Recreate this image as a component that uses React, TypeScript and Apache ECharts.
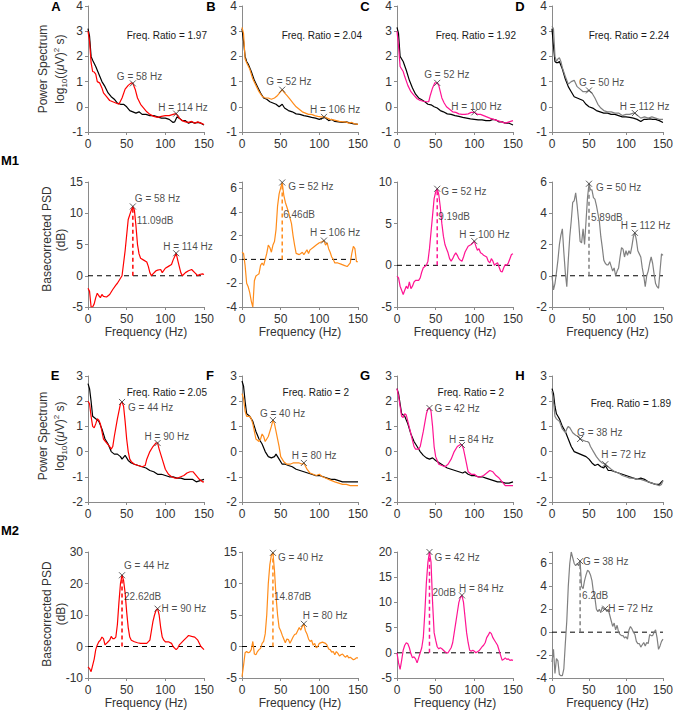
import React, { useEffect, useRef } from "react";
import * as echarts from "echarts";

const FONT = "'Liberation Sans', Arial, Helvetica, sans-serif";
const RED = "#ff0000";
const ORANGE = "#ff8c1a";
const PINK = "#ff1493";
const GRAY = "#808080";
const BLACK = "#000000";
const AXIS = "#8a8a8a";
const TXT = "#1a1a1a";
const ANN = 10;

// ---------- Row 1 (M1) power spectra: [Hz, log10 power] ----------
const powBaseA = [[0,3.1],[2,2.8],[4,2.0],[6,1.85],[10,1.6],[14,1.3],[18,1.0],[22,0.8],[26,0.55],[30,0.4],[34,0.3],[38,0.15],[42,0.1],[46,0.1],[50,0.0],[54,-0.15],[58,-0.2],[62,-0.25],[66,-0.2],[70,-0.3],[75,-0.3],[80,-0.35],[85,-0.35],[90,-0.4],[95,-0.45],[100,-0.45],[105,-0.5],[110,-0.62],[112,-0.6],[115,-0.4],[118,-0.45],[122,-0.55],[126,-0.55],[130,-0.65],[134,-0.6],[138,-0.65],[142,-0.62],[146,-0.65],[150,-0.72]];
const powStimA = [[0,3.0],[2,2.6],[4,1.75],[6,1.4],[8,1.38],[10,1.3],[12,1.0],[15,0.95],[18,0.75],[20,0.55],[24,0.4],[28,0.25],[32,0.2],[36,0.15],[40,0.1],[44,0.35],[48,0.7],[52,0.85],[56,0.95],[58,0.93],[61,0.7],[64,0.35],[68,0.1],[72,-0.05],[76,-0.2],[80,-0.3],[85,-0.38],[90,-0.42],[95,-0.38],[100,-0.35],[105,-0.35],[110,-0.3],[114,-0.27],[118,-0.45],[122,-0.55],[126,-0.6],[130,-0.62],[134,-0.58],[138,-0.65],[142,-0.6],[146,-0.65],[150,-0.7]];
const powBaseB = [[0,3.1],[2,2.6],[4,2.0],[6,1.8],[8,1.7],[12,1.4],[16,1.05],[20,0.8],[24,0.55],[28,0.35],[32,0.3],[36,0.2],[40,0.15],[44,0.1],[48,0.0],[50,0.05],[52,0.1],[55,-0.05],[60,-0.15],[65,-0.2],[70,-0.28],[75,-0.3],[80,-0.35],[85,-0.38],[90,-0.42],[95,-0.45],[100,-0.5],[104,-0.45],[108,-0.42],[112,-0.55],[116,-0.5],[120,-0.58],[125,-0.6],[130,-0.62],[135,-0.6],[140,-0.65],[145,-0.68],[150,-0.7]];
const powStimB = [[0,3.15],[2,2.9],[4,1.9],[6,1.75],[10,1.5],[14,1.1],[18,0.85],[22,0.6],[26,0.42],[30,0.35],[34,0.35],[38,0.3],[42,0.35],[46,0.45],[50,0.6],[52,0.68],[55,0.55],[58,0.45],[62,0.3],[66,0.15],[70,0.0],[74,-0.1],[78,-0.2],[82,-0.25],[86,-0.3],[90,-0.3],[94,-0.35],[98,-0.38],[102,-0.4],[106,-0.4],[110,-0.45],[114,-0.5],[118,-0.52],[122,-0.55],[126,-0.58],[130,-0.6],[134,-0.6],[138,-0.65],[142,-0.62],[146,-0.68],[150,-0.7]];
const powBaseC = [[0,3.15],[2,2.9],[4,2.0],[8,1.8],[12,1.45],[16,1.05],[20,0.75],[24,0.5],[28,0.35],[32,0.28],[36,0.2],[40,0.1],[44,0.08],[48,0.0],[52,-0.05],[56,-0.15],[60,-0.2],[65,-0.28],[70,-0.3],[75,-0.35],[80,-0.38],[85,-0.42],[90,-0.45],[95,-0.48],[100,-0.5],[105,-0.52],[110,-0.52],[115,-0.55],[120,-0.55],[124,-0.5],[128,-0.52],[132,-0.6],[136,-0.6],[140,-0.65],[145,-0.65],[150,-0.72]];
const powStimC = [[0,3.0],[2,2.4],[4,1.6],[6,1.5],[8,1.4],[10,1.2],[14,0.85],[18,0.6],[22,0.45],[26,0.32],[30,0.25],[34,0.22],[38,0.2],[41,0.2],[43,0.45],[46,0.75],[49,0.95],[52,0.95],[54,0.85],[56,0.6],[58,0.35],[61,0.15],[64,0.0],[68,-0.1],[72,-0.2],[76,-0.22],[80,-0.28],[84,-0.3],[88,-0.3],[92,-0.28],[96,-0.22],[100,-0.22],[104,-0.3],[108,-0.3],[112,-0.35],[116,-0.4],[120,-0.45],[125,-0.5],[130,-0.55],[135,-0.6],[140,-0.65],[145,-0.6],[150,-0.55]];
const powBaseD = [[0,3.1],[2,2.4],[4,1.8],[6,1.75],[8,1.75],[10,1.8],[14,1.5],[18,1.1],[22,0.8],[26,0.6],[30,0.4],[34,0.35],[38,0.3],[42,0.25],[46,0.1],[50,0.0],[55,-0.05],[60,-0.15],[65,-0.2],[70,-0.25],[75,-0.25],[80,-0.3],[85,-0.3],[90,-0.35],[95,-0.4],[100,-0.4],[105,-0.42],[110,-0.45],[115,-0.5],[120,-0.58],[124,-0.5],[128,-0.5],[132,-0.48],[136,-0.5],[140,-0.5],[145,-0.55],[150,-0.62]];
const powStimD = [[0,3.2],[2,3.1],[4,2.0],[6,1.8],[8,1.9],[10,1.95],[12,1.8],[14,1.55],[18,1.2],[22,0.9],[26,1.0],[30,1.05],[34,0.8],[38,0.7],[42,0.6],[46,0.6],[50,0.65],[54,0.55],[58,0.35],[62,0.1],[66,-0.05],[70,-0.15],[75,-0.2],[80,-0.2],[85,-0.25],[90,-0.25],[95,-0.35],[100,-0.3],[105,-0.3],[110,-0.25],[112,-0.25],[116,-0.35],[120,-0.45],[125,-0.4],[130,-0.45],[135,-0.4],[140,-0.45],[145,-0.5],[150,-0.5]];

// ---------- Row 2 (M1) basecorrected PSD: [Hz, dB] ----------
const psdA = [[0,-2],[2,-2.5],[4,-5],[6,-5],[8,-4.5],[10,-3.5],[12,-2.8],[14,-3.2],[16,-3.5],[18,-3],[20,-3.3],[24,-3.4],[28,-3],[32,-2.2],[36,-1.5],[38,-1.2],[40,-0.8],[44,0],[48,4],[52,9],[56,10.5],[58,11.09],[60,10.5],[62,8],[64,5],[66,3.5],[68,2.8],[72,2.5],[76,2.2],[78,1.5],[80,0.5],[82,0],[84,0.3],[88,0.8],[90,0.9],[94,1.0],[96,0.5],[100,1.2],[104,1.5],[108,1.8],[110,2.5],[114,3.6],[116,2.5],[118,1.5],[120,0.5],[122,0],[126,0.5],[130,0.8],[134,1.0],[138,0.5],[142,0],[144,0.2],[148,0.3],[150,0.2]];
const psdB = [[0,0.6],[2,0.5],[4,-0.5],[6,-2],[8,-2.3],[10,-2.8],[12,-3.5],[14,-4],[16,-1.8],[18,-1.4],[20,-1.3],[22,-1.2],[24,-0.5],[26,-0.3],[28,-0.5],[30,0],[32,0.5],[34,1.2],[36,1.0],[38,0.6],[40,1.2],[42,1.5],[44,2.5],[46,4.5],[48,5.5],[50,6.0],[52,6.46],[54,5.4],[56,4.8],[60,4.0],[64,3.0],[66,2.0],[68,1.2],[70,0.5],[74,0.4],[76,0.5],[78,0.6],[80,0.4],[82,0.6],[84,0.8],[86,0.5],[88,0.8],[92,1.0],[96,1.2],[100,1.4],[104,1.5],[106,1.58],[108,1.2],[110,1.4],[112,0.9],[114,0.6],[116,0.2],[118,0],[120,-0.3],[124,-0.3],[128,-0.4],[132,-0.5],[136,-0.6],[140,-0.3],[142,0.5],[144,1.1],[146,0.9],[148,-0.2],[150,-0.2]];
const psdC = [[0,-1.3],[2,-1.5],[4,-2.5],[6,-3],[8,-3.5],[10,-3],[12,-2.5],[14,-2.8],[16,-2],[18,-2.8],[20,-2.5],[22,-2],[24,-1.8],[28,-1.8],[30,-1.5],[32,-0.8],[34,-0.3],[38,0],[40,0.5],[42,2],[44,4],[46,6],[48,8],[50,8.8],[52,9.19],[54,8.5],[56,7],[58,5],[60,3.5],[62,2.5],[64,2],[66,1.5],[68,0.8],[70,0.5],[72,0.8],[74,1.2],[76,1.5],[78,1.2],[80,0.8],[82,0.6],[84,0.5],[86,1],[88,1.6],[92,2.3],[96,2.5],[98,2.7],[100,2.9],[102,2.3],[104,1.8],[106,2.0],[108,1.5],[110,1.4],[112,1.2],[116,1.0],[118,0.5],[120,0.3],[122,0.8],[124,0.5],[126,0],[128,0.2],[130,0.3],[132,-0.2],[134,-0.7],[136,-0.8],[138,-0.3],[140,0.1],[142,0],[144,0.3],[146,0.8],[148,1.3],[150,1.4]];
const psdD = [[0,0],[2,-0.9],[4,-0.5],[6,0.2],[8,1.0],[10,2.0],[12,2.6],[14,3.0],[16,1.5],[18,0.2],[20,-0.7],[22,1.0],[24,2.5],[26,3.5],[28,4.7],[30,4.8],[32,5.3],[34,4.5],[36,3.5],[38,2.2],[40,2.1],[42,3.0],[44,2.0],[46,3.5],[48,5.0],[50,5.89],[52,5.5],[54,5.5],[56,5.0],[58,4.9],[60,4.5],[62,4.0],[64,3.5],[66,2.5],[68,1.8],[70,1.0],[72,0.8],[74,0.7],[76,0.7],[78,0.9],[80,0.6],[82,0.3],[84,0.5],[86,0],[88,0.3],[90,0.5],[92,1.2],[94,1.8],[96,1.7],[98,1.2],[100,1.6],[102,1.3],[104,1.6],[106,1.4],[108,1.9],[110,2.5],[112,2.75],[114,2.3],[116,1.6],[118,1.4],[120,1.2],[122,0.5],[124,0],[126,-0.7],[128,0],[130,0.3],[132,0.8],[134,1.2],[136,0.8],[138,0.1],[140,-0.5],[142,-0.7],[144,-0.8],[146,0.3],[148,1.4],[150,1.3]];

// ---------- Row 3 (M2) power spectra ----------
const powBaseE = [[0,2.7],[2,2.5],[4,2.0],[6,1.4],[10,1.3],[14,1.2],[18,0.9],[22,0.5],[26,0.3],[30,0.0],[34,-0.1],[38,-0.1],[42,-0.2],[44,-0.3],[48,-0.15],[52,-0.35],[56,-0.45],[60,-0.5],[65,-0.55],[70,-0.6],[75,-0.65],[80,-0.75],[85,-0.8],[90,-0.9],[95,-0.9],[100,-0.95],[105,-1.0],[110,-1.0],[115,-1.05],[120,-1.05],[125,-1.1],[130,-1.1],[135,-1.1],[140,-1.2],[145,-1.15],[150,-1.1]];
const powStimE = [[0,2.0],[2,1.9],[4,1.4],[6,1.0],[8,0.95],[10,1.1],[12,1.3],[14,1.25],[16,1.1],[18,0.8],[20,0.5],[24,0.35],[28,0.2],[30,0.1],[32,0.2],[34,0.6],[38,1.3],[42,1.9],[44,1.97],[46,1.8],[48,1.2],[50,0.5],[52,0.0],[54,-0.3],[56,-0.4],[60,-0.5],[65,-0.55],[70,-0.6],[74,-0.55],[76,-0.3],[80,0.0],[84,0.2],[88,0.35],[90,0.34],[92,0.1],[94,-0.1],[96,-0.3],[100,-0.7],[104,-0.9],[108,-1.0],[112,-1.05],[116,-1.05],[120,-1.0],[124,-0.95],[128,-0.85],[132,-0.8],[136,-0.8],[140,-0.95],[144,-1.1],[148,-1.2],[150,-1.2]];
const powBaseF = [[0,2.8],[2,2.6],[4,2.0],[6,1.5],[10,1.4],[14,1.2],[18,0.8],[22,0.5],[26,0.3],[30,0.0],[34,-0.2],[38,-0.25],[42,-0.2],[44,-0.1],[48,-0.3],[52,-0.5],[56,-0.5],[60,-0.55],[65,-0.6],[70,-0.7],[75,-0.75],[80,-0.8],[85,-0.85],[90,-0.9],[95,-0.95],[100,-0.95],[105,-1.0],[110,-1.05],[115,-1.1],[120,-1.1],[125,-1.15],[130,-1.2],[135,-1.2],[140,-1.2],[145,-1.2],[150,-1.2]];
const powStimF = [[0,2.3],[2,2.1],[4,1.6],[6,1.4],[10,1.4],[12,1.3],[14,1.1],[18,0.5],[22,0.4],[24,0.5],[26,0.7],[28,0.6],[30,0.4],[34,0.6],[38,1.0],[40,1.25],[42,1.1],[44,0.8],[48,0.2],[50,-0.2],[54,-0.4],[58,-0.5],[62,-0.5],[66,-0.45],[70,-0.45],[74,-0.45],[78,-0.5],[80,-0.45],[84,-0.7],[88,-0.85],[92,-0.9],[96,-0.95],[100,-0.9],[104,-1.0],[108,-1.05],[112,-1.1],[116,-1.15],[120,-1.2],[125,-1.25],[130,-1.3],[135,-1.3],[140,-1.35],[145,-1.35],[150,-1.35]];
const powBaseG = [[0,2.5],[2,2.3],[4,1.9],[6,1.5],[10,1.4],[14,1.1],[18,0.7],[22,0.4],[26,0.2],[30,0.0],[34,-0.15],[38,-0.25],[42,-0.3],[46,-0.25],[50,-0.35],[55,-0.45],[60,-0.55],[65,-0.65],[70,-0.7],[75,-0.75],[80,-0.8],[85,-0.85],[88,-0.8],[92,-0.9],[96,-0.95],[100,-0.95],[105,-1.0],[110,-1.0],[115,-1.05],[120,-1.1],[125,-1.15],[130,-1.2],[135,-1.2],[140,-1.25],[145,-1.25],[150,-1.2]];
const powStimG = [[0,2.5],[2,2.2],[4,1.8],[6,1.4],[8,1.35],[10,1.5],[12,1.45],[14,1.2],[18,0.7],[22,0.2],[24,0.1],[28,0.1],[30,0.2],[34,0.8],[38,1.5],[40,1.7],[42,1.73],[44,1.6],[46,1.0],[48,0.2],[50,-0.2],[54,-0.5],[58,-0.55],[62,-0.6],[66,-0.5],[70,-0.3],[74,0.0],[78,0.2],[82,0.28],[84,0.26],[86,0.1],[88,-0.2],[90,-0.5],[92,-0.8],[96,-0.9],[100,-0.9],[104,-1.0],[108,-1.0],[112,-0.95],[116,-0.85],[120,-0.75],[124,-0.8],[128,-0.95],[132,-1.05],[136,-1.2],[140,-1.35],[145,-1.35],[150,-1.35]];
const powBaseH = [[0,2.5],[2,2.3],[4,1.8],[6,1.5],[8,1.4],[10,1.3],[14,1.0],[18,0.8],[22,0.5],[26,0.2],[30,0.0],[34,-0.05],[38,-0.1],[42,-0.15],[46,-0.2],[50,-0.3],[54,-0.45],[58,-0.55],[62,-0.5],[66,-0.6],[70,-0.65],[72,-0.55],[76,-0.75],[80,-0.75],[85,-0.8],[90,-0.85],[95,-0.9],[100,-0.95],[105,-1.0],[110,-1.05],[115,-1.1],[120,-1.05],[125,-1.1],[130,-1.2],[135,-1.25],[140,-1.3],[145,-1.3],[148,-1.2],[150,-1.15]];
const powStimH = [[0,2.4],[2,2.0],[4,1.4],[6,1.3],[10,1.2],[14,0.9],[18,0.75],[20,0.9],[22,1.0],[24,0.95],[28,0.75],[32,0.65],[36,0.6],[38,0.5],[42,0.45],[46,0.4],[48,0.4],[50,0.35],[52,0.2],[56,0.0],[60,-0.2],[64,-0.35],[68,-0.45],[72,-0.5],[76,-0.6],[80,-0.7],[85,-0.8],[90,-0.85],[95,-0.95],[100,-1.0],[105,-1.05],[110,-1.05],[115,-1.1],[120,-1.1],[125,-1.15],[130,-1.2],[135,-1.25],[140,-1.3],[145,-1.35],[148,-1.3],[150,-1.15]];

// ---------- Row 4 (M2) basecorrected PSD ----------
const psdE = [[0,-6.5],[2,-7],[4,-8],[6,-6],[8,-4],[10,-1],[12,0.5],[14,1.5],[16,2],[18,3],[20,2.5],[22,0.5],[24,1],[26,1.5],[28,2],[30,3.2],[32,2.5],[34,2.5],[36,3],[38,7],[40,14],[42,20],[44,22.62],[46,21],[48,17],[50,11],[52,6],[54,3],[56,2],[60,1.5],[64,1.2],[68,1],[72,1],[76,1],[80,2],[82,5],[84,8],[86,10],[88,11.5],[90,12],[92,10],[94,6],[96,3],[98,2],[100,1.5],[104,1.5],[108,1],[110,0],[112,-0.5],[114,-1],[116,-0.5],[118,0.5],[120,1],[124,2],[128,3],[130,3.5],[134,3.2],[138,3],[142,2],[146,0],[150,-1]];
const psdF = [[0,-4.8],[2,-3],[4,-1],[6,-0.8],[8,-1],[10,-0.9],[12,-0.5],[14,0.8],[16,-1.2],[18,-1.3],[20,-0.8],[22,-0.5],[24,-0.3],[26,0.5],[28,0.8],[30,2],[32,5],[34,10],[36,13],[38,14.5],[40,14.87],[42,12],[44,8],[46,5],[48,3],[50,2.5],[52,1.8],[54,1.2],[56,0.6],[58,1.2],[60,1.1],[62,0.5],[64,1],[66,1.5],[68,1.9],[70,2],[72,2.5],[74,3],[76,2.6],[78,3.2],[80,3.6],[82,2.5],[84,2],[86,1.2],[88,0.8],[90,1],[92,0.2],[94,0.5],[96,-0.2],[98,0],[100,0.5],[104,0.7],[108,0.5],[110,0.2],[112,-0.4],[114,-0.5],[116,-0.9],[118,-0.8],[120,-1.3],[122,-0.8],[124,-1.1],[126,-1.5],[128,-1.3],[130,-1.2],[132,-1.5],[134,-1.7],[136,-1.4],[138,-1.8],[140,-1.7],[142,-1.9],[144,-2.1],[146,-2.0],[148,-1.8],[150,-1.8]];
const psdG = [[0,0],[2,-2],[4,-3.3],[6,-1.5],[8,0.5],[10,1.5],[12,2],[14,1.8],[16,1],[18,-0.2],[20,-1],[22,-0.8],[24,-1.2],[26,-2],[28,-1],[30,0],[32,1],[34,3],[36,8],[38,14],[40,18],[42,20],[44,18],[46,10],[48,4],[50,2.5],[52,1.2],[54,0.8],[56,1],[58,0.8],[60,0.5],[62,0.2],[64,0],[66,0],[68,0.5],[70,1],[72,2],[74,4],[76,6],[78,8],[80,10],[82,11],[84,11.4],[86,10],[88,7],[90,4],[92,2],[94,0.5],[96,0.3],[98,0.5],[100,0.3],[102,0],[104,0.2],[106,0.4],[108,0.8],[110,1.2],[112,1.5],[114,2],[116,3],[118,3.5],[120,4.1],[122,3.8],[124,3],[126,2.5],[128,2],[130,1.5],[132,0.5],[134,-0.5],[136,-1.5],[138,-1.3],[140,-1],[142,-1.3],[144,-1.2],[146,-1.5],[148,-1.4],[150,-1.5]];
const psdH = [[0,-2.6],[2,-1.5],[4,-3.6],[6,-2.3],[8,-2.5],[10,-3.7],[12,-3.8],[14,-3.8],[16,-3.2],[18,-1],[20,1],[22,4],[24,6],[26,7],[28,6.5],[30,6],[32,5.8],[34,6],[36,5.8],[38,6.2],[40,4],[42,3.8],[44,4.5],[46,5],[48,5.4],[50,5.3],[52,5],[54,4.5],[56,3.5],[58,3],[60,2],[62,1.8],[64,2],[66,1.7],[68,2.2],[70,2],[72,2.05],[74,1.8],[76,2],[78,1.5],[80,1],[82,0.5],[84,0.8],[86,0.2],[88,0.6],[90,0],[92,-0.2],[94,-0.3],[96,-0.3],[98,-0.5],[100,-0.4],[102,-0.6],[104,0.2],[106,0.5],[108,0.3],[110,0],[112,-0.2],[114,-0.8],[116,-1],[118,-1],[120,-1.3],[122,-1.1],[124,-0.9],[126,-1.2],[128,-0.9],[130,-1],[132,-0.2],[134,-0.3],[136,-0.3],[138,0],[140,0.2],[142,-0.5],[144,-1.5],[146,-1.2],[148,-0.8],[150,-0.6]];

// ---------- Peak markers [Hz, value] (G, H) ----------
const marksPowA = [[58,0.93],[114,-0.27]];
const marksPowB = [[52,0.68],[106,-0.4]];
const marksPowC = [[52,0.95],[100,-0.22]];
const marksPowD = [[50,0.65],[112,-0.25]];
const marksPsdA = [[58,11.09],[114,3.6]];
const marksPsdB = [[52,6.46],[106,1.58]];
const marksPsdC = [[52,9.19],[100,2.9]];
const marksPsdD = [[50,5.89],[112,2.75]];
const marksPowE = [[44,1.97],[90,0.34]];
const marksPowF = [[40,1.25],[80,-0.45]];
const marksPowG = [[42,1.73],[84,0.26]];
const marksPowH = [[38,0.5],[72,-0.5]];
const marksPsdE = [[44,22.62],[90,12]];
const marksPsdF = [[40,14.87],[80,3.6]];
const marksPsdG = [[42,20],[84,11.4]];
const marksPsdH = [[38,6.2],[72,2.05]];

const freqRatios = ["1.97", "2.04", "1.92", "2.24", "2.05", "2", "2", "1.89"];
const dbTexts = ["11.09dB", "6.46dB", "9.19dB", "5.89dB", "22.62dB", "14.87dB", "20dB", "6.2dB"];
const dbLabelLevel = [8.8, 3.75, 5.9, 3.75, 15.8, 7.9, 11.9, 3.2];

const COL_X = [88, 242, 397, 552];
const PW = 116;
const ROW_Y = [5, 182, 376, 552];
const ROW_H = [127, 125, 126, 126];

type Off = [number, number];
interface Panel {
  row: number; col: number; color: string; kind: "pow" | "psd";
  base?: number[][]; line: number[][]; marks: number[][];
  yMin: number; yMax: number; yInt: number;
  off: Off[]; idx: number; dbDx?: number;
}

const PANELS: Panel[] = [
  { row: 0, col: 0, color: RED, kind: "pow", base: powBaseA, line: powStimA, marks: marksPowA, yMin: -1, yMax: 4, yInt: 1, off: [[-16, -7], [-18, -6]], idx: 0 },
  { row: 0, col: 1, color: ORANGE, kind: "pow", base: powBaseB, line: powStimB, marks: marksPowB, yMin: -1, yMax: 4, yInt: 1, off: [[-16, -8], [-14, -7]], idx: 1 },
  { row: 0, col: 2, color: PINK, kind: "pow", base: powBaseC, line: powStimC, marks: marksPowC, yMin: -1, yMax: 4, yInt: 1, off: [[-13, -8], [-23, -6]], idx: 2 },
  { row: 0, col: 3, color: GRAY, kind: "pow", base: powBaseD, line: powStimD, marks: marksPowD, yMin: -1, yMax: 4, yInt: 1, off: [[-10, -8], [-15, -7]], idx: 3 },
  { row: 1, col: 0, color: RED, kind: "psd", line: psdA, marks: marksPsdA, yMin: -5, yMax: 15, yInt: 5, off: [[2, -8], [-13, -7]], idx: 0, dbDx: 4 },
  { row: 1, col: 1, color: ORANGE, kind: "psd", line: psdB, marks: marksPsdB, yMin: -4, yMax: 6.5, yInt: 2, off: [[6, 4], [-14, -8]], idx: 1, dbDx: 1 },
  { row: 1, col: 2, color: PINK, kind: "psd", line: psdC, marks: marksPsdC, yMin: -5, yMax: 10, yInt: 5, off: [[4, 3], [-15, -7]], idx: 2, dbDx: 1 },
  { row: 1, col: 3, color: GRAY, kind: "psd", line: psdD, marks: marksPsdD, yMin: -2, yMax: 6, yInt: 2, off: [[7, 4], [-14, -7]], idx: 3, dbDx: 2 },
  { row: 2, col: 0, color: RED, kind: "pow", base: powBaseE, line: powStimE, marks: marksPowE, yMin: -2, yMax: 3, yInt: 1, off: [[6, 6], [-13, -7]], idx: 4 },
  { row: 2, col: 1, color: ORANGE, kind: "pow", base: powBaseF, line: powStimF, marks: marksPowF, yMin: -2, yMax: 3, yInt: 1, off: [[-13, -7], [-12, -7]], idx: 5 },
  { row: 2, col: 2, color: PINK, kind: "pow", base: powBaseG, line: powStimG, marks: marksPowG, yMin: -2, yMax: 3, yInt: 1, off: [[5, 0], [-13, -6]], idx: 6 },
  { row: 2, col: 3, color: GRAY, kind: "pow", base: powBaseH, line: powStimH, marks: marksPowH, yMin: -2, yMax: 3, yInt: 1, off: [[-3, -7], [-4, -10]], idx: 7 },
  { row: 3, col: 0, color: RED, kind: "psd", line: psdE, marks: marksPsdE, yMin: -10, yMax: 30, yInt: 10, off: [[2, -10], [4, 0]], idx: 4, dbDx: 2 },
  { row: 3, col: 1, color: ORANGE, kind: "psd", line: psdF, marks: marksPsdF, yMin: -5, yMax: 15, yInt: 5, off: [[5, 5], [-1, -8]], idx: 5, dbDx: 1 },
  { row: 3, col: 2, color: PINK, kind: "psd", line: psdG, marks: marksPsdG, yMin: -5, yMax: 20, yInt: 5, off: [[5, 5], [-3, -7]], idx: 6, dbDx: 3 },
  { row: 3, col: 3, color: GRAY, kind: "psd", line: psdH, marks: marksPsdH, yMin: -4, yMax: 7, yInt: 2, off: [[3, 0], [3, 0]], idx: 7, dbDx: 2 },
];

const RATIO_POS = [[207, 35], [362, 35], [516, 35], [669, 35], [207, 392], [349, 392], [504, 392], [671, 403]];
const LETTERS = [["A", 56, 6], ["B", 211, 6], ["C", 365, 6], ["D", 520, 6], ["E", 55, 375], ["F", 210, 375], ["G", 365, 375], ["H", 520, 375]];

const XSYM = "path://M0,0L10,10M10,0L0,10";

function buildOption() {
  const grid: any[] = [];
  const xAxis: any[] = [];
  const yAxis: any[] = [];
  const series: any[] = [];
  const graphic: any[] = [];

  PANELS.forEach((p, i) => {
    grid.push({ left: COL_X[p.col], top: ROW_Y[p.row], width: PW, height: ROW_H[p.row], containLabel: false });
    xAxis.push({
      type: "value", gridIndex: i, min: 0, max: 150, interval: 50,
      axisLine: { onZero: false, lineStyle: { color: AXIS, width: 1 } },
      axisTick: { show: true, length: 3, lineStyle: { color: AXIS } },
      axisLabel: { color: "#333", fontSize: 12, fontFamily: FONT, margin: 6 },
      splitLine: { show: false },
      name: p.row % 2 === 1 ? "Frequency (Hz)" : "",
      nameLocation: "middle", nameGap: 19,
      nameTextStyle: { color: "#333", fontSize: 12, fontFamily: FONT },
    });
    const yInt = p.yInt;
    yAxis.push({
      type: "value", gridIndex: i, min: p.yMin, max: p.yMax, interval: yInt,
      axisLine: { show: true, onZero: false, lineStyle: { color: AXIS, width: 1 } },
      axisTick: { show: true, length: 3, lineStyle: { color: AXIS } },
      axisLabel: {
        color: "#333", fontSize: 12, fontFamily: FONT, margin: 5,
        formatter: (v: number) => (Math.abs(v / yInt - Math.round(v / yInt)) < 1e-6 ? String(Math.round(v * 100) / 100) : ""),
      },
      splitLine: { show: false },
    });

    if (p.kind === "pow") {
      series.push({ type: "line", xAxisIndex: i, yAxisIndex: i, data: p.base, symbol: "none", lineStyle: { color: BLACK, width: 1.2 }, silent: true, z: 2 });
      series.push({ type: "line", xAxisIndex: i, yAxisIndex: i, data: p.line, symbol: "none", lineStyle: { color: p.color, width: 1.2 }, silent: true, z: 3 });
    } else {
      const g = p.marks[0];
      series.push({ type: "line", xAxisIndex: i, yAxisIndex: i, data: [[0, 0], [150, 0]], symbol: "none", lineStyle: { color: BLACK, width: 1, type: [5, 4] }, silent: true, z: 2 });
      series.push({ type: "line", xAxisIndex: i, yAxisIndex: i, data: [[g[0], 0], [g[0], g[1]]], symbol: "none", lineStyle: { color: p.color, width: 1.5, type: [4, 3] }, silent: true, z: 2 });
      series.push({ type: "line", xAxisIndex: i, yAxisIndex: i, data: p.line, symbol: "none", lineStyle: { color: p.color, width: 1.2 }, silent: true, z: 3 });
      series.push({
        type: "scatter", xAxisIndex: i, yAxisIndex: i, silent: true, z: 5,
        symbolSize: 1, itemStyle: { color: "rgba(0,0,0,0)" },
        data: [{ value: [g[0], dbLabelLevel[p.idx]], name: dbTexts[p.idx] }],
        label: { show: true, position: "inside", align: "left", verticalAlign: "middle", offset: [p.dbDx || 0, 0], formatter: "{b}", color: TXT, fontSize: ANN, fontFamily: FONT },
      });
    }
    const names = ["G = " + p.marks[0][0] + " Hz", "H = " + p.marks[1][0] + " Hz"];
    series.push({
      type: "scatter", xAxisIndex: i, yAxisIndex: i, silent: true, z: 6,
      symbol: XSYM, symbolSize: 6,
      itemStyle: { color: "rgba(0,0,0,0)", borderColor: "#333", borderWidth: 1 },
      data: p.marks.map((m, k) => ({
        value: m, name: names[k],
        label: { show: true, position: "inside", align: "left", verticalAlign: "middle", offset: p.off[k], formatter: "{b}", color: TXT, fontSize: ANN, fontFamily: FONT },
      })),
    });
  });

  RATIO_POS.forEach((pos, k) => {
    graphic.push({ type: "text", x: pos[0], y: pos[1], silent: true, style: { text: "Freq. Ratio = " + freqRatios[k], fill: TXT, fontSize: ANN, fontFamily: FONT, align: "right", verticalAlign: "middle", textAlign: "right", textVerticalAlign: "middle" } });
  });
  LETTERS.forEach((l) => {
    graphic.push({ type: "text", x: l[1], y: l[2], silent: true, style: { text: l[0], fill: "#000", fontSize: 13, fontWeight: "bold", fontFamily: FONT, align: "center", verticalAlign: "middle", textAlign: "center", textVerticalAlign: "middle" } });
  });
  graphic.push({ type: "text", x: 1, y: 160, silent: true, style: { text: "M1", fill: "#000", fontSize: 13, fontWeight: "bold", fontFamily: FONT, align: "left", verticalAlign: "middle", textAlign: "left", textVerticalAlign: "middle" } });
  graphic.push({ type: "text", x: 1, y: 530, silent: true, style: { text: "M2", fill: "#000", fontSize: 13, fontWeight: "bold", fontFamily: FONT, align: "left", verticalAlign: "middle", textAlign: "left", textVerticalAlign: "middle" } });

  const rich = {
    n: { fontSize: 12, fontFamily: FONT, fill: "#333", color: "#333", lineHeight: 16 },
    i: { fontSize: 12, fontFamily: FONT, fill: "#333", color: "#333", fontStyle: "italic", lineHeight: 16 },
    s: { fontSize: 8, fontFamily: FONT, fill: "#333", color: "#333", verticalAlign: "bottom", lineHeight: 9 },
    p: { fontSize: 8, fontFamily: FONT, fill: "#333", color: "#333", verticalAlign: "top", lineHeight: 9 },
  };
  const rotText = (x: number, y: number, text: string, useRich = false) => ({
    type: "text", x, y, rotation: Math.PI / 2, silent: true,
    style: Object.assign(
      { text, fill: "#333", fontSize: 12, fontFamily: FONT, align: "center", verticalAlign: "middle", textAlign: "center", textVerticalAlign: "middle" },
      useRich ? { rich } : {}
    ),
  });
  const logT = "{n|log}{s|10}{n|((}{i|μ}{n|V)}{p|2}{n| s)}";
  graphic.push(rotText(43, 69, "Power Spectrum"));
  graphic.push(rotText(60, 69, logT, true));
  graphic.push(rotText(47, 239, "Basecorrected PSD"));
  graphic.push(rotText(61, 240, "(dB)"));
  graphic.push(rotText(43, 436, "Power Spectrum"));
  graphic.push(rotText(60, 436, logT, true));
  graphic.push(rotText(47, 614, "Basecorrected PSD"));
  graphic.push(rotText(61, 614, "(dB)"));

  return { animation: false, backgroundColor: "#ffffff", grid, xAxis, yAxis, series, graphic };
}

export default function App() {
  const ref = useRef<HTMLDivElement>(null);
  useEffect(() => {
    if (!ref.current) return;
    const chart = echarts.init(ref.current, undefined, { renderer: "svg" });
    chart.setOption(buildOption() as any);
    return () => chart.dispose();
  }, []);
  return <div ref={ref} style={{ position: "absolute", left: 0, top: 0, width: 676, height: 711, background: "#fff" }} />;
}
